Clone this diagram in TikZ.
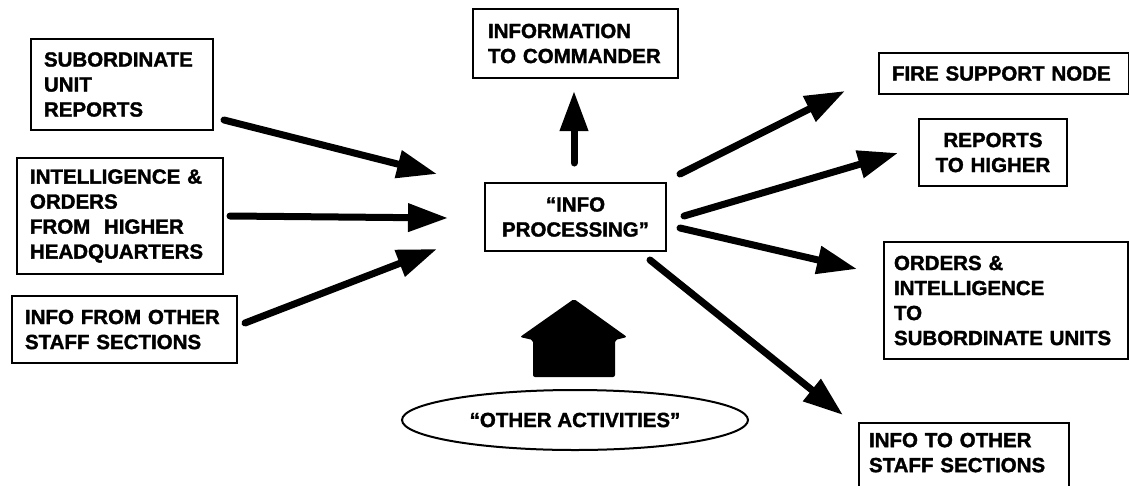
\documentclass[tikz,border=0pt]{standalone}
\usepackage{fontspec}
\setmainfont[BoldFeatures={FakeBold=1.6}]{Liberation Sans}
\usetikzlibrary{arrows.meta,shapes.geometric}
\begin{document}
\begin{tikzpicture}[x=1pt,y=-1pt,
  every node/.style={font=\bfseries\fontsize{20.5}{25}\selectfont},
  box/.style={draw,line width=2pt,anchor=north west,inner xsep=13pt,inner ysep=0pt,align=left},
  cbox/.style={box,align=center},
  flow/.style={line width=7pt,line cap=round,-{Triangle[length=40pt,width=27pt]}}]
\useasboundingbox (0,0) rectangle (1129,485);

% input boxes
\node[box,text width=156pt,minimum height=91pt] (sub) at (30,38) {SUBORDINATE\\UNIT\\REPORTS};
\node[box,text width=180pt,minimum height=116pt] (int) at (16,157) {INTELLIGENCE \&\\ORDERS\\FROM\ \ HIGHER\\HEADQUARTERS};
\node[box,text width=199pt,minimum height=67pt] (ifo) at (11,295) {INFO FROM OTHER\\STAFF SECTIONS};

% centre
\node[box,inner xsep=15pt,text width=175pt,minimum height=69pt] (cmd) at (472,8) {INFORMATION\\TO COMMANDER};
\node[cbox,text width=155pt,minimum height=68pt] (proc) at (484,182) {“INFO\\PROCESSING”};
\node[draw,line width=2pt,ellipse,minimum width=346pt,minimum height=60pt,inner sep=0pt] (act) at (575,420) {“OTHER ACTIVITIES”};

% output boxes
\node[box,inner xsep=13pt,text width=224pt,minimum height=41pt] (fire) at (878,52) {FIRE SUPPORT NODE};
\node[cbox,text width=122pt,minimum height=67pt] (rep) at (918,118) {REPORTS\\TO HIGHER};
\node[box,inner xsep=10pt,text width=224pt,minimum height=117pt] (ord) at (883,241) {ORDERS \&\\INTELLIGENCE\\TO\\SUBORDINATE UNITS};
\node[box,inner xsep=10pt,text width=190pt,minimum height=70pt] (oth) at (858,422) {INFO TO OTHER\\STAFF SECTIONS\\[-14pt]\mbox{}};

% flows into processing
\draw[flow] ([shift={(10,-11)}]sub.south east) -- ([shift={(-47,-43)}]proc.west);
\draw[flow] ([shift={(6,0)}]int.east) -- ([shift={(-36,1)}]proc.west);
\draw[flow] ([shift={(7,-6.5)}]ifo.east) -- ([shift={(-47,32)}]proc.west);

% flows out of processing
\draw[flow] ([shift={(-1.5,-19)}]proc.north) -- ([shift={(-1.5,12)}]cmd.south);
\draw[flow] ([shift={(13,-43)}]proc.east) -- ([shift={(-33,17.5)}]fire.west);
\draw[flow] ([shift={(17,-1)}]proc.east) -- ([shift={(-20,0.5)}]rep.west);
\draw[flow] ([shift={(13,11)}]proc.east) -- ([shift={(-26,-31.5)}]ord.west);
\draw[flow] ([shift={(-17,8)}]proc.south east) -- ([shift={(-15,-7)}]oth.north west);

% block arrow from other activities
\fill[rounded corners=2pt] (533,377) -- (533,340) -- (520,337) -- (574,299) -- (627,337) -- (615,340) -- (615,377) -- cycle;
\end{tikzpicture}
\end{document}
